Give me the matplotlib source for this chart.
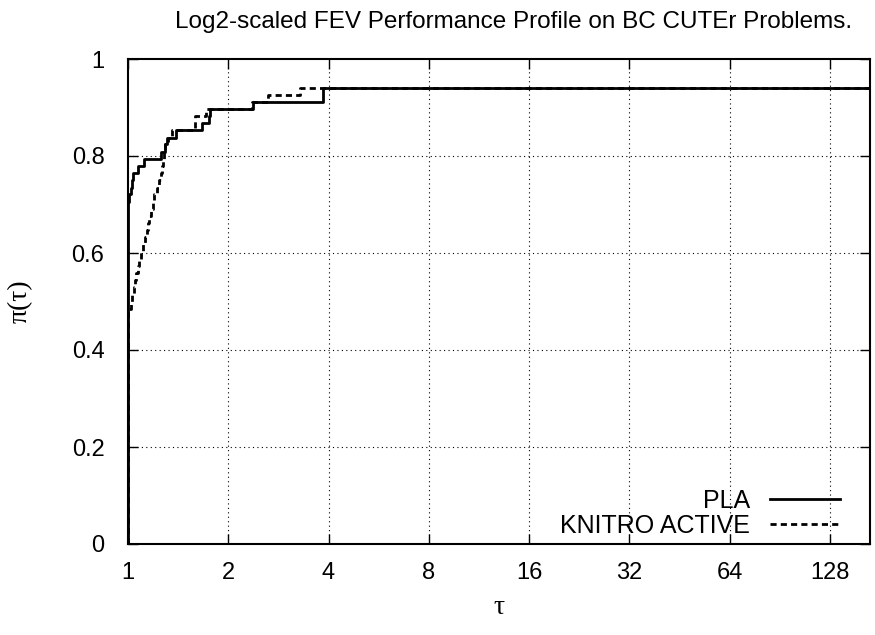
import numpy as np
import matplotlib
matplotlib.use('Agg')
import matplotlib.pyplot as plt

# Performance profile data (tau, fraction of problems)
pla_tau = [1.0, 1.0, 1.01, 1.02, 1.03, 1.037, 1.074, 1.116, 1.26, 1.29, 1.306,
           1.395, 1.67, 1.75, 1.76, 2.37, 3.84, 3.845, 169.0]
pla_rho = [0.0, 0.706, 0.721, 0.735, 0.750, 0.765, 0.779, 0.794, 0.809, 0.824, 0.838,
           0.853, 0.868, 0.882, 0.897, 0.912, 0.926, 0.941, 0.941]

knitro_tau = [1.0, 1.0, 1.023, 1.03, 1.04, 1.05, 1.06, 1.07, 1.08, 1.095, 1.11,
              1.125, 1.14, 1.15, 1.16, 1.17, 1.185, 1.2, 1.22, 1.24, 1.255,
              1.265, 1.27, 1.28, 1.29, 1.32, 1.36, 1.59, 1.591, 1.71, 2.35,
              2.64, 3.28, 169.0]
knitro_rho = [0.0, 0.485, 0.500, 0.515, 0.529, 0.544, 0.559, 0.574, 0.588, 0.603, 0.618,
              0.632, 0.647, 0.662, 0.676, 0.691, 0.706, 0.721, 0.735, 0.750, 0.765,
              0.779, 0.794, 0.809, 0.824, 0.838, 0.853, 0.868, 0.882, 0.897, 0.912,
              0.926, 0.941, 0.941]

xticks = [1, 2, 4, 8, 16, 32, 64, 128]
yticks = [0, 0.2, 0.4, 0.6, 0.8, 1.0]
ytick_labels = ['0', '0.2', '0.4', '0.6', '0.8', '1']

plt.rcParams['font.family'] = ['Liberation Sans', 'DejaVu Sans']

fig = plt.figure(figsize=(8.75, 6.35), dpi=100)
ax = fig.add_axes([128 / 875, 91 / 635, 742 / 875, 485 / 635])

ax.step(knitro_tau, knitro_rho, where='post', color='black', lw=2.0,
        linestyle=(0, (2.2, 1.5)), label='KNITRO ACTIVE')
ax.step(pla_tau, pla_rho, where='post', color='black', lw=2.0, label='PLA')

ax.set_xscale('log', base=2)
ax.set_xlim(1, 169)
ax.set_ylim(0, 1)
ax.set_xticks(xticks)
ax.set_xticklabels([str(t) for t in xticks])
ax.minorticks_off()
ax.set_yticks(yticks)
ax.set_yticklabels(ytick_labels)

ax.tick_params(direction='in', length=7, width=1, labelsize=17, top=True, right=True)
ax.tick_params(axis='y', pad=17)
ax.tick_params(axis='x', pad=13)

# dotted grid, skipping the frame edges
for x in xticks[1:]:
    ax.axvline(x, color='black', lw=0.8, linestyle=(0, (1, 3)), zorder=0)
for y in yticks[1:-1]:
    ax.axhline(y, color='black', lw=0.8, linestyle=(0, (1, 3)), zorder=0)

for s in ax.spines.values():
    s.set_linewidth(1.5)

ax.set_title('Log2-scaled FEV Performance Profile on BC CUTEr Problems.',
             fontsize=17.5, pad=22, x=0.52)
ax.set_xlabel('\u03c4', family='Liberation Serif', fontsize=20, labelpad=8)
ax.set_ylabel('\u03c0(\u03c4)', family='Liberation Serif', fontsize=20, labelpad=28)

h, l = ax.get_legend_handles_labels()
ax.legend(h[::-1], l[::-1], loc='lower right', bbox_to_anchor=(0.9596, 0.012),
          frameon=False, markerfirst=False, fontsize=18, handlelength=2.8,
          handletextpad=0.8, labelspacing=0.05, borderpad=0, borderaxespad=0)

fig.savefig('out.png', dpi=100)
